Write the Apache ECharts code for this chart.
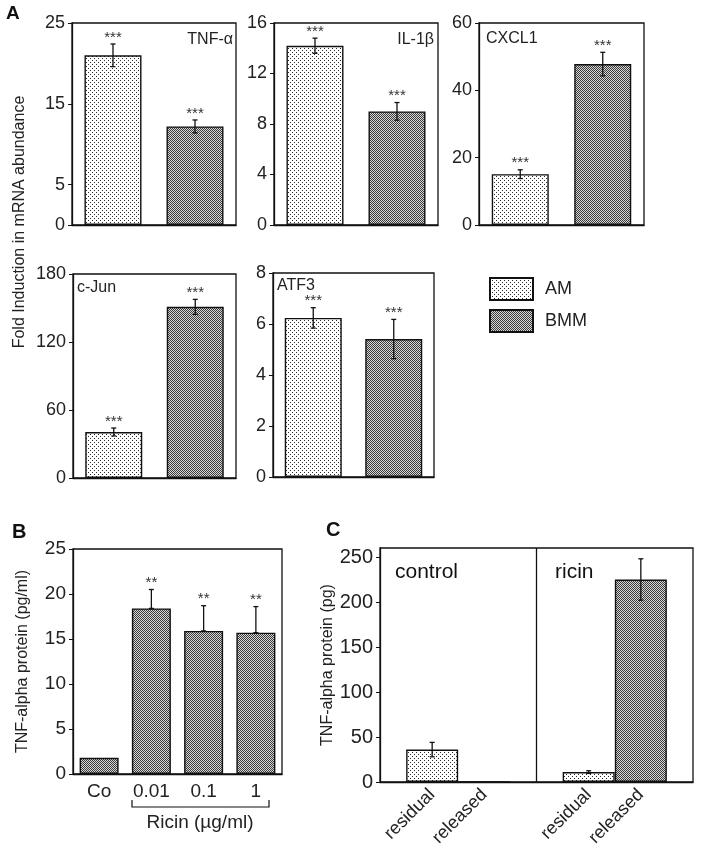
<!DOCTYPE html>
<html>
<head>
<meta charset="utf-8">
<script src="https://cdn.jsdelivr.net/npm/echarts@6/dist/echarts.min.js"></script>
<style>
  html, body { margin: 0; padding: 0; background: #fff; }
  #container1 { width: 702px; height: 852px; }
</style>
</head>
<body>
<div id="container1"></div>
<script>
// panel A: fold induction per gene
var genes = ['TNF-α', 'IL-1β', 'CXCL1', 'c-Jun', 'ATF3'];
var groups = ['AM', 'BMM'];
var amMean = [21.0, 14.2, 15.1, 40.6, 6.24];
var amErr = [1.4, 0.6, 1.3, 3.5, 0.4];
var bmmMean = [12.2, 9.0, 47.8, 151, 5.41];
var bmmErr = [0.8, 0.7, 3.5, 6.6, 0.77];
var aTicks = [[0, 5, 15, 25], [0, 4, 8, 12, 16], [0, 20, 40, 60], [0, 60, 120, 180], [0, 2, 4, 6, 8]];
var aStars = ['***', '***'];

// panel B: TNF-alpha protein vs ricin dose
var bCats = ['Co', '0.01', '0.1', '1'];
var bMean = [1.8, 18.4, 15.9, 15.7];
var bErr = [0, 2.1, 2.8, 2.9];
var bStars = ['', '**', '**', '**'];
var bTicks = [0, 5, 10, 15, 20, 25];

// panel C: residual / released protein
var cGroups = ['control', 'ricin'];
var cCats = ['', 'residual', 'released', '', 'residual', 'released', ''];
var cResidual = [36, 11];
var cResidualErr = [8, 1.5];
var cReleased = [0, 225];
var cReleasedErr = [0, 23];
var cTicks = [0, 50, 100, 150, 200, 250];

var font = 'Liberation Sans, Arial, Helvetica, sans-serif';

function makePattern(kind) {
    var c = document.createElement('canvas');
    var ctx;
    if (kind === 'am') {
        c.width = 4; c.height = 4;
        ctx = c.getContext('2d');
        ctx.fillStyle = '#ffffff';
        ctx.fillRect(0, 0, 4, 4);
        ctx.fillStyle = '#2a2a2a';
        ctx.fillRect(0, 0, 1, 1);
        ctx.fillRect(2, 2, 1, 1);
    } else {
        c.width = 2; c.height = 2;
        ctx = c.getContext('2d');
        ctx.fillStyle = '#d8d8d8';
        ctx.fillRect(0, 0, 2, 2);
        ctx.fillStyle = '#3a3a3a';
        ctx.fillRect(0, 0, 1, 1);
        ctx.fillRect(1, 1, 1, 1);
    }
    return { image: c, repeat: 'repeat' };
}
var amPat = makePattern('am');
var bmmPat = makePattern('bmm');

// error bar + significance stars, stars looked up by category index
function errRender(stars) {
    return function (params, api) {
        var x = api.value(0);
        var top = api.coord([x, api.value(2)]);
        var bot = api.coord([x, api.value(1)]);
        var st = { stroke: '#111', lineWidth: 1.3 };
        var kids = [
            { type: 'line', shape: { x1: top[0], y1: top[1], x2: bot[0], y2: bot[1] }, style: st },
            { type: 'line', shape: { x1: top[0] - 2.5, y1: top[1], x2: top[0] + 2.5, y2: top[1] }, style: st },
            { type: 'line', shape: { x1: bot[0] - 2.5, y1: bot[1], x2: bot[0] + 2.5, y2: bot[1] }, style: st }
        ];
        var s = stars[x];
        if (s) {
            kids.push({ type: 'text', x: top[0], y: top[1] + 1,
                style: { text: s, align: 'center', verticalAlign: 'bottom', fill: '#333', font: '15px ' + font } });
        }
        return { type: 'group', children: kids };
    };
}

var myChart = echarts.init(document.getElementById('container1'));
initChart();

function initChart() {
    var aGrids = [
        { left: 72, top: 23, width: 164, height: 202 },
        { left: 274, top: 23, width: 164, height: 202 },
        { left: 479, top: 23, width: 165, height: 202 },
        { left: 73, top: 274, width: 163, height: 204 },
        { left: 273, top: 273, width: 161, height: 204 }
    ];
    var geneLabelPos = [
        { right: 469, top: 32 },
        { right: 268, top: 32 },
        { left: 486, top: 31 },
        { left: 77, top: 280 },
        { left: 277, top: 278 }
    ];
    var grid = [], xAxis = [], yAxis = [], series = [], title = [];
    var tickLabel = { fontSize: 18, color: '#222', margin: 7, fontFamily: font };

    for (var i = 0; i < genes.length; i++) {
        var g = aGrids[i];
        grid.push({ left: g.left, top: g.top, width: g.width, height: g.height, show: true,
            borderColor: '#111', borderWidth: 1.3, backgroundColor: 'transparent' });
        xAxis.push({ type: 'category', gridIndex: i, data: groups,
            axisLine: { lineStyle: { color: '#111', width: 1.3 } },
            axisTick: { show: false }, axisLabel: { show: false } });
        var tk = aTicks[i];
        yAxis.push({ type: 'value', gridIndex: i, min: 0, max: tk[tk.length - 1],
            axisLine: { show: true, lineStyle: { color: '#111', width: 1.3 } },
            axisTick: { show: true, length: 4, customValues: tk, lineStyle: { color: '#111' } },
            axisLabel: Object.assign({ customValues: tk }, tickLabel),
            splitLine: { show: false } });
        series.push({ name: 'AM', type: 'bar', xAxisIndex: i, yAxisIndex: i, barWidth: 57, barGap: '-100%',
            data: [amMean[i], '-'],
            itemStyle: { color: amPat, borderColor: '#111', borderWidth: 1.4 } });
        series.push({ name: 'BMM', type: 'bar', xAxisIndex: i, yAxisIndex: i, barWidth: 57, barGap: '-100%',
            data: ['-', bmmMean[i]],
            itemStyle: { color: bmmPat, borderColor: '#111', borderWidth: 1.4 } });
        series.push({ type: 'custom', xAxisIndex: i, yAxisIndex: i, z: 10,
            renderItem: errRender(aStars),
            data: [[0, amMean[i] - amErr[i], amMean[i] + amErr[i]],
                   [1, bmmMean[i] - bmmErr[i], bmmMean[i] + bmmErr[i]]] });
        title.push(Object.assign({ text: genes[i], padding: 0,
            textStyle: { fontSize: 16, fontWeight: 'normal', color: '#222', fontFamily: font } }, geneLabelPos[i]));
    }

    // panel B
    var bi = genes.length;
    grid.push({ left: 73, top: 549, width: 209, height: 225, show: true,
        borderColor: '#111', borderWidth: 1.3, backgroundColor: 'transparent' });
    xAxis.push({ type: 'category', gridIndex: bi, data: bCats,
        axisLine: { lineStyle: { color: '#111', width: 1.3 } },
        axisTick: { show: false },
        axisLabel: { fontSize: 19, color: '#222', margin: 8, fontFamily: font } });
    yAxis.push({ type: 'value', gridIndex: bi, min: 0, max: 25,
        name: 'TNF-alpha protein (pg/ml)', nameLocation: 'middle', nameGap: 42,
        nameTextStyle: { fontSize: 16, color: '#222', fontFamily: font },
        axisLine: { show: true, lineStyle: { color: '#111', width: 1.3 } },
        axisTick: { show: true, length: 4, customValues: bTicks, lineStyle: { color: '#111' } },
        axisLabel: Object.assign({}, tickLabel, { customValues: bTicks, fontSize: 19 }),
        splitLine: { show: false } });
    series.push({ name: 'TNF-alpha', type: 'bar', xAxisIndex: bi, yAxisIndex: bi, barWidth: 39,
        data: bMean, itemStyle: { color: bmmPat, borderColor: '#111', borderWidth: 1.4 } });
    series.push({ type: 'custom', xAxisIndex: bi, yAxisIndex: bi, z: 10,
        renderItem: errRender(bStars),
        data: bMean.map(function (v, k) { return [k, v, v + bErr[k]]; })
            .filter(function (d, k) { return bErr[k] > 0; }) });

    // panel C
    var ci = bi + 1;
    grid.push({ left: 380, top: 548, width: 313, height: 234, show: true,
        borderColor: '#111', borderWidth: 1.3, backgroundColor: 'transparent' });
    xAxis.push({ type: 'category', gridIndex: ci, data: cCats, boundaryGap: false,
        axisLine: { lineStyle: { color: '#111', width: 1.3 } },
        axisTick: { show: false },
        axisLabel: { interval: 0, rotate: 45, fontSize: 18, color: '#222', margin: 10, fontFamily: font },
        splitLine: { show: true, interval: function (k) { return k === 3; },
            lineStyle: { color: '#111', width: 1.3 } } });
    yAxis.push({ type: 'value', gridIndex: ci, min: 0, max: 260,
        name: 'TNF-alpha protein (pg)', nameLocation: 'middle', nameGap: 42,
        nameTextStyle: { fontSize: 16, color: '#222', fontFamily: font },
        axisLine: { show: true, lineStyle: { color: '#111', width: 1.3 } },
        axisTick: { show: true, length: 4, customValues: cTicks, lineStyle: { color: '#111' } },
        axisLabel: Object.assign({}, tickLabel, { customValues: cTicks, fontSize: 20 }),
        splitLine: { show: false } });
    var resData = cCats.map(function () { return '-'; });
    var relData = cCats.map(function () { return '-'; });
    var cErrData = [];
    cGroups.forEach(function (gname, k) {
        var base = k * 3;
        resData[base + 1] = cResidual[k];
        relData[base + 2] = cReleased[k];
        if (cResidualErr[k] > 0) cErrData.push([base + 1, cResidual[k] - cResidualErr[k], cResidual[k] + cResidualErr[k]]);
        if (cReleasedErr[k] > 0) cErrData.push([base + 2, cReleased[k] - cReleasedErr[k], cReleased[k] + cReleasedErr[k]]);
    });
    series.push({ name: 'residual', type: 'bar', xAxisIndex: ci, yAxisIndex: ci, barWidth: 52, barGap: '-100%',
        data: resData, itemStyle: { color: amPat, borderColor: '#111', borderWidth: 1.4 } });
    series.push({ name: 'released', type: 'bar', xAxisIndex: ci, yAxisIndex: ci, barWidth: 52, barGap: '-100%',
        data: relData, itemStyle: { color: bmmPat, borderColor: '#111', borderWidth: 1.4 } });
    series.push({ type: 'custom', xAxisIndex: ci, yAxisIndex: ci, z: 10,
        renderItem: errRender([]), data: cErrData });

    var option = {
        animation: false,
        backgroundColor: '#fff',
        textStyle: { fontFamily: font },
        title: title,
        legend: {
            data: groups, orient: 'vertical', left: 489, top: 277, padding: 0,
            icon: 'rect', itemWidth: 43, itemHeight: 22, itemGap: 8,
            textStyle: { fontSize: 18, color: '#222', padding: [0, 0, 0, 7] }
        },
        grid: grid,
        xAxis: xAxis,
        yAxis: yAxis,
        series: series,
        graphic: [
            { type: 'text', left: 6, top: 4, style: { text: 'A', font: 'bold 19px ' + font, fill: '#111' } },
            { type: 'text', left: 12, top: 522, style: { text: 'B', font: 'bold 20px ' + font, fill: '#111' } },
            { type: 'text', left: 326, top: 520, style: { text: 'C', font: 'bold 20px ' + font, fill: '#111' } },
            { type: 'text', x: 20, y: 222, rotation: Math.PI / 2,
              style: { text: 'Fold Induction in mRNA abundance', font: '16px ' + font, fill: '#222',
                       align: 'center', verticalAlign: 'middle' } },
            { type: 'polyline', shape: { points: [[132, 800], [132, 807], [269, 807], [269, 800]] },
              style: { stroke: '#111', lineWidth: 1.2, fill: null } },
            { type: 'text', x: 200, y: 823,
              style: { text: 'Ricin (µg/ml)', font: '19px ' + font, fill: '#222', align: 'center', verticalAlign: 'middle' } },
            { type: 'text', x: 395, y: 572,
              style: { text: cGroups[0], font: '21px ' + font, fill: '#111', align: 'left', verticalAlign: 'middle' } },
            { type: 'text', x: 555, y: 572,
              style: { text: cGroups[1], font: '21px ' + font, fill: '#111', align: 'left', verticalAlign: 'middle' } }
        ]
    };
    myChart.setOption(option);
}
</script>
</body>
</html>
